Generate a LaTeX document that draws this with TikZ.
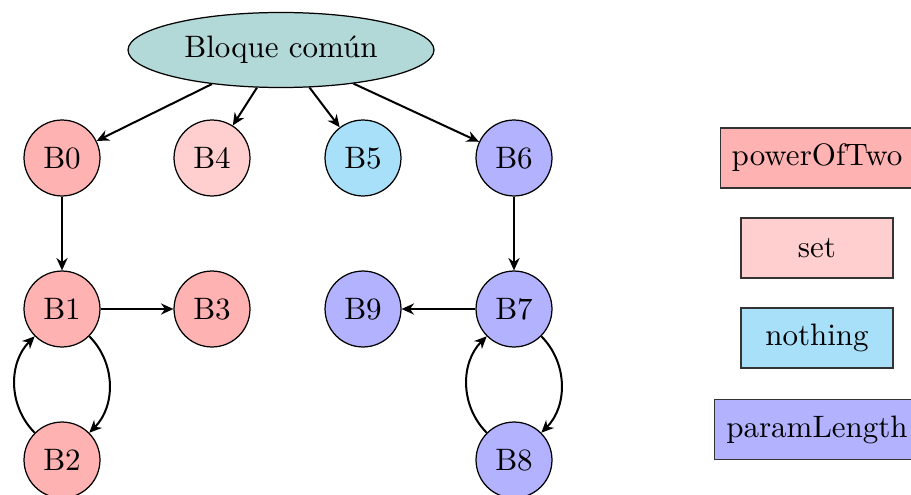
\documentclass[tikz,border=0pt]{standalone}
\usetikzlibrary{shapes.geometric,arrows.meta}
\definecolor{cpow}{RGB}{255,178,178}
\definecolor{cset}{RGB}{255,206,206}
\definecolor{cnot}{RGB}{168,223,249}
\definecolor{cpar}{RGB}{178,178,255}
\definecolor{cteal}{RGB}{178,217,216}
\begin{document}
\begin{tikzpicture}[x=0.3226pt,y=-0.3226pt,
  blk/.style={circle,draw=black,line width=0.4pt,minimum size=24.5pt,inner sep=0pt},
  leg/.style={rectangle,draw=black!80,line width=0.4pt,minimum width=49pt,minimum height=19.4pt,inner xsep=3.7pt},
  arr/.style={-{Stealth[length=4pt,width=3.6pt]},line width=0.65pt}]
\useasboundingbox (0,0) rectangle (911,495);
\node[ellipse,draw=black,line width=0.4pt,fill=cteal,minimum width=98.7pt,minimum height=24.2pt,inner sep=0pt] (top) at (281,50) {Bloque común};
\node[blk,fill=cpow] (B0) at (62,158) {B0};
\node[blk,fill=cset] (B4) at (212,158) {B4};
\node[blk,fill=cnot] (B5) at (363,158) {B5};
\node[blk,fill=cpar] (B6) at (514,158) {B6};
\node[blk,fill=cpow] (B1) at (62,309) {B1};
\node[blk,fill=cpow] (B3) at (212,309) {B3};
\node[blk,fill=cpar] (B9) at (363,309) {B9};
\node[blk,fill=cpar] (B7) at (514,309) {B7};
\node[blk,fill=cpow] (B2) at (62,460) {B2};
\node[blk,fill=cpar] (B8) at (514,460) {B8};
\node[leg,fill=cpow] (L1) at (817,158) {powerOfTwo};
\node[leg,fill=cset] (L2) at (817,248) {set};
\node[leg,fill=cnot] (L3) at (817,338) {nothing};
\node[leg,fill=cpar] (L4) at (817,429.5) {paramLength};
\draw[arr] (top) -- (B0);
\draw[arr] (top) -- (B4);
\draw[arr] (top) -- (B5);
\draw[arr] (top) -- (B6);
\draw[arr] (B0) -- (B1);
\draw[arr] (B1) -- (B3);
\draw[arr] (B1) to[bend left=45] (B2);
\draw[arr] (B2) to[bend left=45] (B1);
\draw[arr] (B6) -- (B7);
\draw[arr] (B7) -- (B9);
\draw[arr] (B7) to[bend left=45] (B8);
\draw[arr] (B8) to[bend left=45] (B7);
\end{tikzpicture}
\end{document}
